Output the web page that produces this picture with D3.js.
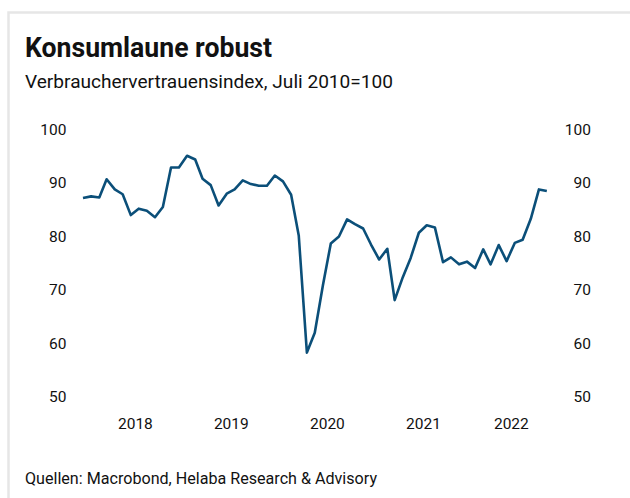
<!DOCTYPE html>
<html><head><meta charset="utf-8">
<script src="https://cdn.jsdelivr.net/npm/d3@7"></script>
<style>
html,body{margin:0;padding:0;background:#fff;}
svg{display:block;font-family:Roboto,"Noto Sans",sans-serif;}
</style></head>
<body>
<svg id="chart" width="630" height="498"></svg>
<script>
const title = "Konsumlaune robust";
const subtitle = "Verbrauchervertrauensindex, Juli 2010=100";
const source = "Quellen: Macrobond, Helaba Research & Advisory";

const months = ["2017-12",
 "2018-01","2018-02","2018-03","2018-04","2018-05","2018-06","2018-07","2018-08","2018-09","2018-10","2018-11","2018-12",
 "2019-01","2019-02","2019-03","2019-04","2019-05","2019-06","2019-07","2019-08","2019-09","2019-10","2019-11","2019-12",
 "2020-01","2020-02","2020-03","2020-04","2020-05","2020-06","2020-07","2020-08","2020-09","2020-10","2020-11","2020-12",
 "2021-01","2021-02","2021-03","2021-04","2021-05","2021-06","2021-07","2021-08","2021-09","2021-10","2021-11","2021-12",
 "2022-01","2022-02","2022-03","2022-04","2022-05","2022-06","2022-07","2022-08","2022-09","2022-10"];
const values = [87.2,
 87.5,87.3,90.7,88.8,87.9,84.0,85.2,84.8,83.6,85.5,92.9,92.9,
 95.1,94.4,90.8,89.6,85.8,88.0,88.8,90.5,89.8,89.5,89.5,91.4,
 90.3,87.8,80.2,58.3,62.0,70.9,78.7,80.0,83.2,82.3,81.5,78.5,
 75.7,77.7,68.1,72.4,76.0,80.7,82.1,81.7,75.2,76.1,74.8,75.3,
 74.1,77.6,74.8,78.4,75.4,78.8,79.4,83.3,88.8,88.5];
const yTicks = [50,60,70,80,90,100];
const yearLabels = [2018,2019,2020,2021,2022];

const svg = d3.select("#chart");
const parse = d3.timeParse("%Y-%m");
const data = months.map((m,i)=>({date:d3.timeDay.offset(parse(m),14), value:values[i]}));

const xStart = parse("2017-12"), xEnd = parse("2022-11");
const x = d3.scaleTime().domain([xStart,xEnd]).range([79.3,551.3]);
const y = d3.scaleLinear().domain([50,100]).range([397,129.5]);

// frame
svg.append("path").attr("d","M8.5,498 L8.5,12.5 L630,12.5")
  .attr("fill","none").attr("stroke","#e6e6e6").attr("stroke-width",2.5);

svg.append("text").attr("x",25).attr("y",57).text(title)
  .attr("font-size",27).attr("font-weight",700).attr("fill","#111")
  .attr("textLength",247).attr("lengthAdjust","spacingAndGlyphs");
svg.append("text").attr("x",25).attr("y",88).text(subtitle)
  .attr("font-size",18.5).attr("fill","#111")
  .attr("textLength",368).attr("lengthAdjust","spacingAndGlyphs");

// y axes labels left and right
const axL = d3.axisLeft(y).tickValues(yTicks).tickSize(0).tickPadding(0);
const gL = svg.append("g").attr("transform","translate(66.5,0)").call(axL);
const axR = d3.axisLeft(y).tickValues(yTicks).tickSize(0).tickPadding(0);
const gR = svg.append("g").attr("transform","translate(591,0)").call(axR);
[gL,gR].forEach(g=>{
  g.select(".domain").remove();
  g.selectAll("text").attr("font-size",15.5).attr("fill","#111")
   .attr("font-family","Roboto,'Noto Sans',sans-serif");
});

// x year labels, centred on visible part of each year
const gx = svg.append("g");
gx.selectAll("text").data(yearLabels).join("text")
  .attr("x",yr=>{
    const a = d3.max([xStart,new Date(yr,0,1)]);
    const b = d3.min([xEnd,new Date(yr+1,0,1)]);
    return (x(a)+x(b))/2;
  })
  .attr("y",429).attr("text-anchor","middle")
  .attr("font-size",15.5).attr("fill","#111").text(d=>d);

// line
const line = d3.line().x(d=>x(d.date)).y(d=>y(d.value));
svg.append("path").datum(data).attr("d",line)
  .attr("fill","none").attr("stroke","#0b4f79").attr("stroke-width",2.6)
  .attr("stroke-linejoin","round");

svg.append("text").attr("x",25).attr("y",484).text(source)
  .attr("font-size",16).attr("fill","#111")
  .attr("textLength",352).attr("lengthAdjust","spacingAndGlyphs");
</script>
</body></html>
